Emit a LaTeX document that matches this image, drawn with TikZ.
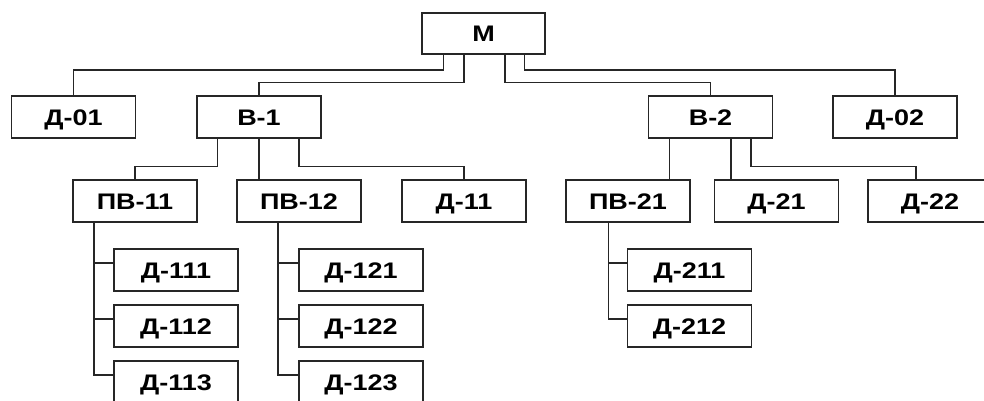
\documentclass[tikz,border=0pt]{standalone}
\usepackage{fontspec}
\setmainfont{Liberation Sans}[FakeStretch=1.2]
\begin{document}
\begin{tikzpicture}[x=1pt,y=-1pt,
  box/.style={draw=black!85, line width=1.6pt, fill=white, minimum width=124pt, minimum height=42pt, inner sep=0pt,
     text height=16pt, text depth=0pt,
     font=\fontsize{22.5}{26}\selectfont\bfseries},
  conn/.style={draw=black!85, line width=1.6pt}]
\useasboundingbox (0,0) rectangle (984,400);
% level 1
\node[box, minimum width=123pt, minimum height=41pt] (m) at (483.5,33.5) {М};
% level 2
\node[box] (d01) at (73.5,117) {Д-01};
\node[box] (v1) at (259,117) {В-1};
\node[box] (v2) at (710.5,117) {В-2};
\node[box] (d02) at (895,117) {Д-02};
% level 3
\node[box] (pv11) at (135,201) {ПВ-11};
\node[box] (pv12) at (299,201) {ПВ-12};
\node[box] (d11) at (464,201) {Д-11};
\node[box] (pv21) at (628,201) {ПВ-21};
\node[box] (d21) at (776.5,201) {Д-21};
\node[box] (d22) at (930,201) {Д-22};
% level 4
\node[box] (d111) at (176,270) {Д-111};
\node[box] (d112) at (176,326) {Д-112};
\node[box] (d113) at (176,382) {Д-113};
\node[box] (d121) at (361,270) {Д-121};
\node[box] (d122) at (361,326) {Д-122};
\node[box] (d123) at (361,382) {Д-123};
\node[box] (d211) at (689.5,270) {Д-211};
\node[box] (d212) at (689.5,326) {Д-212};
% M connectors
\draw[conn] ([xshift=-40pt]m.south) -- ++(0,15) -| (d01.north);
\draw[conn] ([xshift=-19.3pt]m.south) -- ++(0,27.7) -| (v1.north);
\draw[conn] ([xshift=21.5pt]m.south) -- ++(0,27.7) -| (v2.north);
\draw[conn] ([xshift=41pt]m.south) -- ++(0,15) -| (d02.north);
% B-1 connectors
\draw[conn] ([xshift=-41.7pt]v1.south) -- ++(0,27.7) -| (pv11.north);
\draw[conn] (v1.south) -- (v1.south |- pv12.north);
\draw[conn] ([xshift=40.2pt]v1.south) -- ++(0,27.7) -| (d11.north);
% B-2 connectors
\draw[conn] ([xshift=-41.2pt]v2.south) -- ([xshift=-41.2pt]v2.south |- pv21.north);
\draw[conn] ([xshift=20.5pt]v2.south) -- ([xshift=20.5pt]v2.south |- d21.north);
\draw[conn] ([xshift=40.2pt]v2.south) -- ++(0,27.7) -| ([xshift=-14pt]d22.north);
% PV-11 trunk
\coordinate (t11) at ([xshift=-41pt]pv11.south);
\draw[conn] (t11) |- ([yshift=7pt]d113.west);
\draw[conn] ([yshift=7pt]d111.west -| t11) -- ([yshift=7pt]d111.west);
\draw[conn] ([yshift=7pt]d112.west -| t11) -- ([yshift=7pt]d112.west);
% PV-12 trunk
\coordinate (t12) at ([xshift=-20.8pt]pv12.south);
\draw[conn] (t12) |- ([yshift=7pt]d123.west);
\draw[conn] ([yshift=7pt]d121.west -| t12) -- ([yshift=7pt]d121.west);
\draw[conn] ([yshift=7pt]d122.west -| t12) -- ([yshift=7pt]d122.west);
% PV-21 trunk
\coordinate (t21) at ([xshift=-19.7pt]pv21.south);
\draw[conn] (t21) |- ([yshift=7pt]d212.west);
\draw[conn] ([yshift=7pt]d211.west -| t21) -- ([yshift=7pt]d211.west);
\end{tikzpicture}
\end{document}
